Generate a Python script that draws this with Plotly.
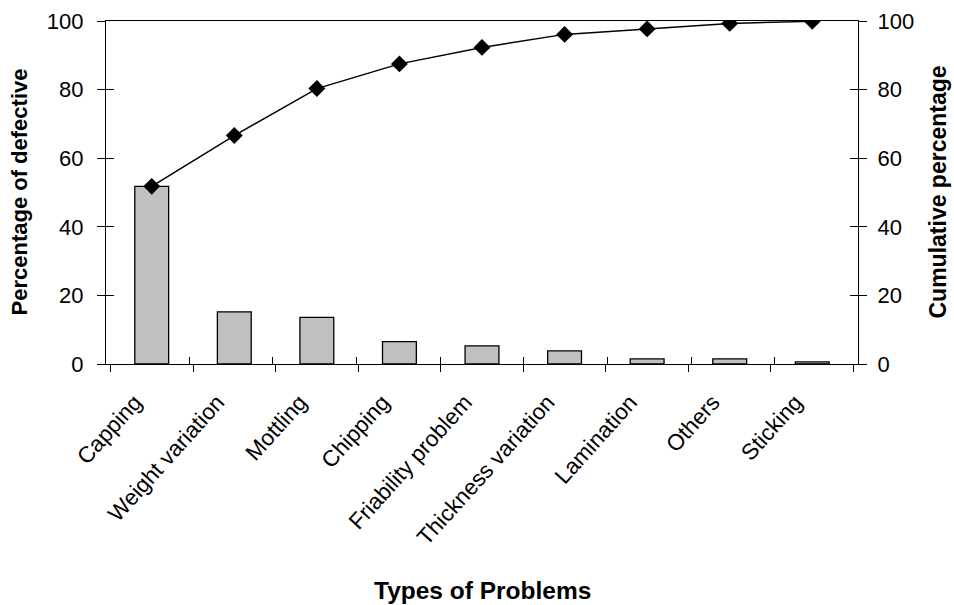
import plotly.graph_objects as go

categories = ["Capping", "Weight variation", "Mottling", "Chipping", "Friability problem",
              "Thickness variation", "Lamination", "Others", "Sticking"]
defect_pct = [51.8, 15.2, 13.6, 6.5, 5.3, 3.8, 1.5, 1.5, 0.6]
cumulative_pct = [51.8, 66.6, 80.3, 87.5, 92.3, 96.1, 97.7, 99.3, 99.9]
y_ticks = [0, 20, 40, 60, 80, 100]

FONT = "Liberation Sans, Arial, sans-serif"

fig = go.Figure()
fig.add_trace(go.Bar(x=categories, y=defect_pct, marker=dict(color="#c0c0c0",
                     line=dict(color="black", width=1.3)), showlegend=False))
fig.add_trace(go.Scatter(x=categories, y=cumulative_pct, yaxis="y2", mode="lines+markers",
                         line=dict(color="black", width=1.5),
                         marker=dict(symbol="diamond", size=13, color="black"),
                         showlegend=False))
# invisible trace for overlay axes (cross ticks)
fig.add_trace(go.Scatter(x=categories, y=defect_pct, xaxis="x3", yaxis="y3", mode="markers",
                         marker=dict(opacity=0), hoverinfo="skip", showlegend=False))

axis_common = dict(showline=True, linecolor="black", linewidth=1.3, showgrid=False,
                   zeroline=False, tickcolor="black", tickwidth=1.3)

fig.update_layout(
    width=954, height=605,
    margin=dict(l=106, r=96, t=21, b=241, autoexpand=False),
    plot_bgcolor="white", paper_bgcolor="white",
    font=dict(family=FONT, size=22, color="black"),
    bargap=0.59,
    xaxis=dict(**axis_common, type="category", tickson="boundaries", ticks="outside",
               ticklen=7, tickangle=-48, mirror=True, tickfont=dict(size=22.5),
               ticklabelstandoff=15, ticklabelshift=-17, automargin=False),
    yaxis=dict(**axis_common, range=[0, 100], tickvals=y_ticks, ticks="outside", ticklen=8,
               ticklabelstandoff=9, automargin=False),
    yaxis2=dict(**axis_common, range=[0, 100], tickvals=y_ticks, ticks="outside", ticklen=8,
                overlaying="y", side="right", ticklabelstandoff=6, automargin=False),
    xaxis3=dict(type="category", overlaying="x", tickson="boundaries", ticks="inside",
                ticklen=7, tickcolor="black", tickwidth=1.3, showticklabels=False,
                showgrid=False, zeroline=False, showline=False),
    yaxis3=dict(range=[0, 100], tickvals=y_ticks, overlaying="y", ticks="inside", ticklen=8,
                tickcolor="black", tickwidth=1.3, showticklabels=False, mirror="ticks",
                showgrid=False, zeroline=False, showline=False),
    annotations=[
        dict(text="<b>Types of Problems</b>", xref="paper", yref="paper", x=0.5, y=0,
             yshift=-226, showarrow=False, font=dict(size=24.5), yanchor="middle"),
        dict(text="<b>Percentage of defective</b>", xref="paper", yref="paper", x=0, y=0.5,
             xshift=-87, textangle=-90, showarrow=False, font=dict(size=22), xanchor="center"),
        dict(text="<b>Cumulative percentage</b>", xref="paper", yref="paper", x=1, y=0.5,
             xshift=79, textangle=-90, showarrow=False, font=dict(size=23), xanchor="center"),
    ],
)

fig.write_html("out.html", config={"displayModeBar": False},
               post_script="document.body.style.margin='0';document.body.style.overflow='hidden';")
